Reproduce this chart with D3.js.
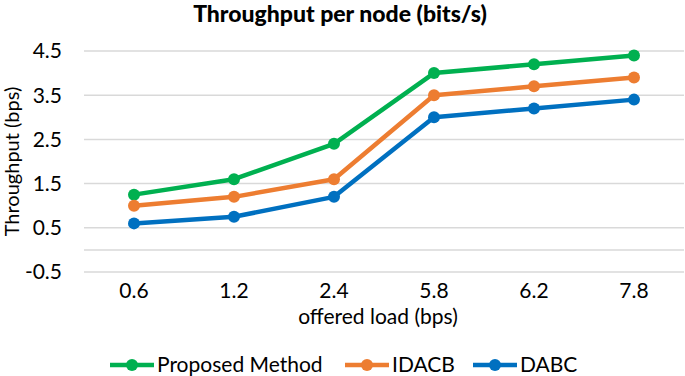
<!DOCTYPE html>
<html lang="en">
    <head>
        <meta charset="utf-8">
        <title>Throughput per node</title>
        <script type="text/javascript" src="https://d3js.org/d3.v7.min.js"></script>
        <style>
            body { margin: 0; background: white; }
            text { font-family: Lato, "Open Sans", sans-serif; fill: #000; }
            .grid line { stroke: #d9d9d9; stroke-width: 1.5; }
            .series path { fill: none; stroke-width: 4.5; stroke-linejoin: round; }
        </style>
    </head>
    <body>
        <svg id="chart" width="685" height="376"></svg>
    </body>
    <script>
        // data
        let loads = ["0.6", "1.2", "2.4", "5.8", "6.2", "7.8"];
        let proposed = [1.25, 1.6, 2.4, 4.0, 4.2, 4.4];
        let idacb = [1.0, 1.2, 1.6, 3.5, 3.7, 3.9];
        let dabc = [0.6, 0.75, 1.2, 3.0, 3.2, 3.4];
        let yTicks = [-0.5, 0.5, 1.5, 2.5, 3.5, 4.5];

        let seriesList = [
            {name: "Proposed Method", values: proposed, color: "#00b050"},
            {name: "IDACB", values: idacb, color: "#ed7d31"},
            {name: "DABC", values: dabc, color: "#0070c0"}
        ];

        let svg = d3.select("#chart");
        let margin = {left: 84, right: 1, top: 51, bottom: 104};
        let width = 685 - margin.left - margin.right;
        let height = 376 - margin.top - margin.bottom;

        let xScale = d3.scaleBand()
                        .domain(loads)
                        .range([0, width]);
        let yScale = d3.scaleLinear()
                        .domain([-0.5, 4.5])
                        .range([height, 0]);

        let plot = svg.append("g")
            .attr("transform", "translate(" + margin.left + "," + margin.top + ")");

        // gridlines, plus the axis line at zero
        plot.append("g")
            .attr("class", "grid")
            .selectAll("line")
            .data(yTicks.concat([0]))
            .join("line")
            .attr("x1", 0)
            .attr("x2", width)
            .attr("y1", d => yScale(d))
            .attr("y2", d => yScale(d));

        // y tick labels, plain hyphen for the minus like the original
        plot.append("g")
            .selectAll("text")
            .data(yTicks)
            .join("text")
            .attr("x", -22)
            .attr("y", d => yScale(d))
            .attr("dy", "0.35em")
            .attr("text-anchor", "end")
            .style("font-size", "21px")
            .text(d => d3.format(".1f")(d).replace("\u2212", "-"));

        // x tick labels sit below the plot
        plot.append("g")
            .selectAll("text")
            .data(loads)
            .join("text")
            .attr("x", d => xScale(d) + xScale.bandwidth() / 2)
            .attr("y", height + 26)
            .attr("text-anchor", "middle")
            .style("font-size", "21px")
            .text(d => d);

        let line = d3.line()
                        .x((d, i) => xScale(loads[i]) + xScale.bandwidth() / 2)
                        .y(d => yScale(d));

        let groups = plot.selectAll(".series")
            .data(seriesList)
            .join("g")
            .attr("class", "series");

        groups.append("path")
            .attr("stroke", d => d.color)
            .attr("d", d => line(d.values));

        groups.selectAll("circle")
            .data(d => d.values.map((v, i) => ({v: v, i: i, color: d.color})))
            .join("circle")
            .attr("cx", d => xScale(loads[d.i]) + xScale.bandwidth() / 2)
            .attr("cy", d => yScale(d.v))
            .attr("r", 6)
            .attr("fill", d => d.color);

        // titles
        svg.append("text")
            .attr("x", 340)
            .attr("y", 22)
            .attr("text-anchor", "middle")
            .style("font-size", "23px")
            .style("font-weight", "900")
            .text("Throughput per node (bits/s)");

        svg.append("text")
            .attr("transform", "translate(19," + (margin.top + yScale(2)) + ") rotate(-90)")
            .attr("text-anchor", "middle")
            .style("font-size", "20px")
            .text("Throughput (bps)");

        svg.append("text")
            .attr("x", 378)
            .attr("y", 324)
            .attr("text-anchor", "middle")
            .style("font-size", "21px")
            .text("offered load (bps)");

        // legend
        let legendX = [110, 345, 473];
        let legend = svg.append("g")
            .selectAll("g")
            .data(seriesList)
            .join("g")
            .attr("transform", (d, i) => "translate(" + legendX[i] + ",365)");

        legend.append("line")
            .attr("x1", 0)
            .attr("x2", 44)
            .attr("stroke", d => d.color)
            .attr("stroke-width", 4.5);

        legend.append("circle")
            .attr("cx", 22)
            .attr("r", 6)
            .attr("fill", d => d.color);

        legend.append("text")
            .attr("x", 47)
            .attr("dy", "0.35em")
            .style("font-size", "21px")
            .text(d => d.name);
    </script>
</html>
